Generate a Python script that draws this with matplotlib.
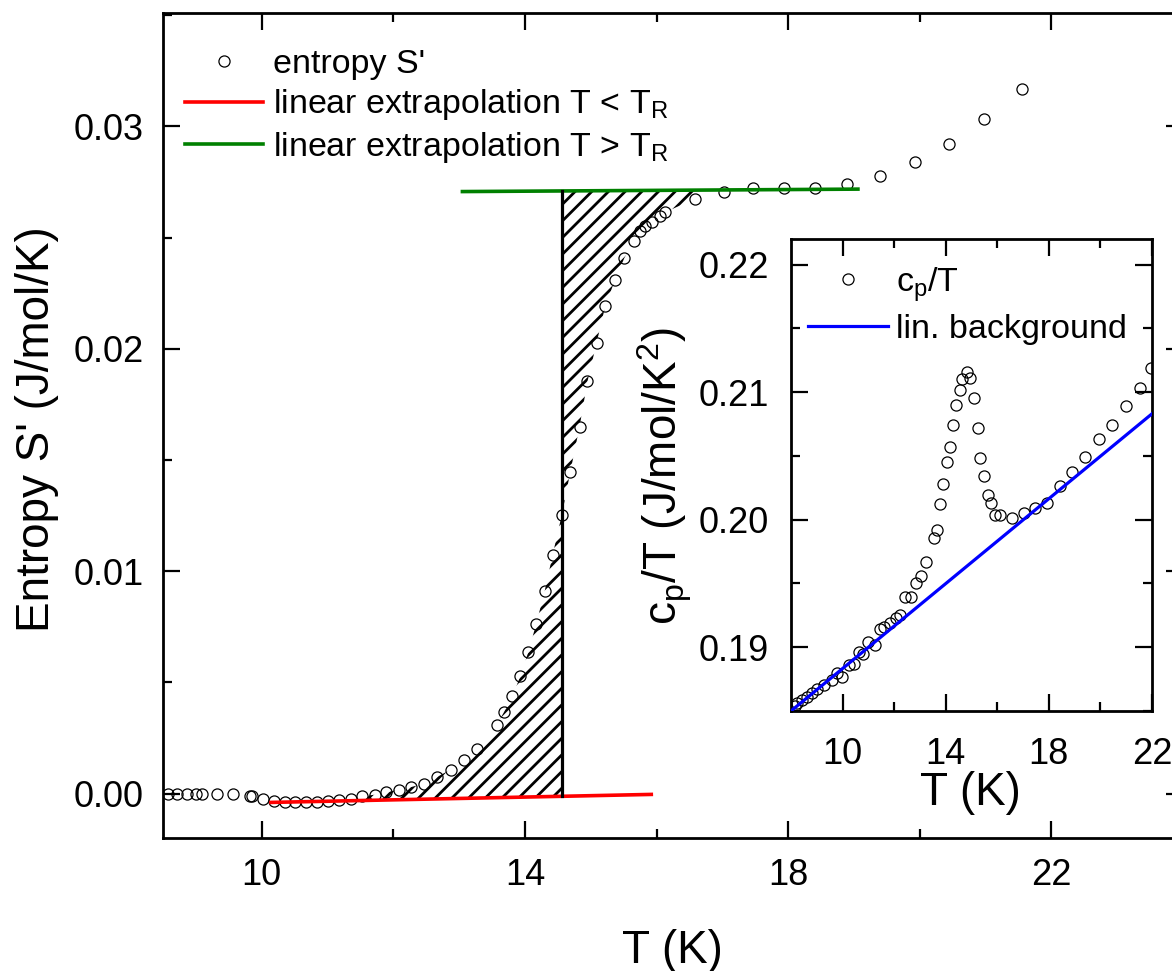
import numpy as np
import matplotlib
matplotlib.use("Agg")
import matplotlib.pyplot as plt
from matplotlib.ticker import MultipleLocator, FormatStrFormatter

plt.rcParams['font.family'] = ['Liberation Sans', 'DejaVu Sans']
plt.rcParams['mathtext.default'] = 'regular'
plt.rcParams['hatch.linewidth'] = 2.0
plt.rcParams['hatch.color'] = 'black'

# ---------------- data: main panel (entropy S') ----------------
T_main = [8.57, 8.72, 8.86, 9.00, 9.09, 9.32, 9.57, 9.82, 9.85, 10.02, 10.18,
          10.35, 10.51, 10.67, 10.84, 11.01, 11.18, 11.35, 11.53, 11.72, 11.89,
          12.08, 12.27, 12.46, 12.66, 12.87, 13.07, 13.27, 13.57, 13.68, 13.81,
          13.93, 14.05, 14.17, 14.30, 14.42, 14.56, 14.69, 14.83, 14.95, 15.09,
          15.22, 15.37, 15.51, 15.65, 15.75, 15.83, 15.93, 16.05, 16.13, 16.58,
          17.02, 17.47, 17.94, 18.41, 18.90, 19.40, 19.92, 20.45, 20.98, 21.55]
S_main = [0.0, 0.0, 0.0, 0.0, 0.0, 0.0, -0.00002, -0.00013, -0.00010, -0.00024,
          -0.00032, -0.00036, -0.00039, -0.00039, -0.00036, -0.00035, -0.00029,
          -0.00025, -0.00013, -0.00005, 0.00005, 0.00017, 0.00029, 0.00044,
          0.00074, 0.00107, 0.00149, 0.00201, 0.00309, 0.00365, 0.00437, 0.00528,
          0.00635, 0.00761, 0.00910, 0.01072, 0.01252, 0.01447, 0.01650, 0.01853,
          0.02028, 0.02191, 0.02311, 0.02408, 0.02483, 0.02528, 0.02551, 0.02569,
          0.02596, 0.02614, 0.02674, 0.02706, 0.02721, 0.02721, 0.02721, 0.02739,
          0.02776, 0.02839, 0.02923, 0.03032, 0.03170]

# linear extrapolations (end points)
T_red = [10.14, 15.92]
S_red = [-0.00040, -0.00004]
T_green = [13.05, 19.06]
S_green = [0.02707, 0.02718]
T_R = 14.56

# ---------------- data: inset (c_p/T) ----------------
T_ins = [8.16, 8.25, 8.42, 8.61, 8.83, 9.02, 9.29, 9.58, 9.80, 9.99, 10.23, 10.45,
         10.65, 10.81, 11.00, 11.24, 11.46, 11.61, 11.82, 12.08, 12.23, 12.43,
         12.66, 12.85, 13.05, 13.24, 13.53, 13.66, 13.79, 13.91, 14.05, 14.17,
         14.28, 14.41, 14.54, 14.63, 14.82, 14.95, 15.08, 15.24, 15.34, 15.47,
         15.64, 15.76, 15.92, 16.12, 16.59, 17.02, 17.48, 17.93, 18.42, 18.90,
         19.39, 19.93, 20.45, 21.01, 21.55, 21.98]
C_ins = [0.1854, 0.1856, 0.1859, 0.1861, 0.1864, 0.1867, 0.1870, 0.1874, 0.1880,
         0.1877, 0.1886, 0.1887, 0.1896, 0.1895, 0.1904, 0.1902, 0.1914, 0.1916,
         0.1919, 0.1923, 0.1925, 0.1939, 0.1939, 0.1950, 0.1956, 0.1967, 0.1986,
         0.1992, 0.2012, 0.2028, 0.2045, 0.2057, 0.2074, 0.2090, 0.2102, 0.2110,
         0.2116, 0.2111, 0.2095, 0.2072, 0.2048, 0.2034, 0.2019, 0.2013, 0.2004,
         0.2004, 0.2001, 0.2005, 0.2009, 0.2013, 0.2026, 0.2037, 0.2049, 0.2063,
         0.2074, 0.2089, 0.2103, 0.2119]
T_bg = [8.0, 22.0]
C_bg = [0.1850, 0.2083]

main_xticks = [10, 14, 18, 22]
main_xminor = [12, 16, 20]
ins_xticks = [10, 14, 18, 22]
ins_xminor = [12, 16, 20]

# ---------------- figure ----------------
W, H = 1172, 971
fig = plt.figure(figsize=(W / 100, H / 100), dpi=100)
ax = fig.add_axes([163 / W, 1 - 838 / H, (1183 - 163) / W, (838 - 13) / H])

Tm = np.array(T_main)
Sm = np.array(S_main)
red_fit = np.polyfit(T_red, S_red, 1)
green_fit = np.polyfit(T_green, S_green, 1)

# hatched regions
m1 = (Tm >= 11.5) & (Tm <= T_R)
ax.fill_between(Tm[m1], np.polyval(red_fit, Tm[m1]), Sm[m1],
                where=Sm[m1] >= np.polyval(red_fit, Tm[m1]), interpolate=True,
                facecolor='none', edgecolor='black', hatch='//', linewidth=0, zorder=1)
m2 = (Tm >= T_R) & (Tm <= 16.6)
ax.fill_between(Tm[m2], Sm[m2], np.polyval(green_fit, Tm[m2]),
                facecolor='none', edgecolor='black', hatch='//', linewidth=0, zorder=1)

ax.plot(T_main, S_main, 'o', mfc='none', mec='black', ms=8, mew=0.9,
        label="entropy S'", zorder=2)
ax.plot(T_red, S_red, color='#ff0000', lw=2.6, zorder=3,
        label=r'linear extrapolation T < T$_{R}$')
ax.plot(T_green, S_green, color='#008000', lw=2.6, zorder=3,
        label=r'linear extrapolation T > T$_{R}$')
ax.plot([T_R, T_R], [np.polyval(red_fit, T_R), np.polyval(green_fit, T_R)],
        color='black', lw=2.3, zorder=3)

ax.set_xlim(8.5, 24)
ax.set_ylim(-0.002, 0.0351)
ax.set_xticks(main_xticks)
ax.set_xticks(main_xminor, minor=True)
ax.yaxis.set_major_locator(MultipleLocator(0.01))
ax.yaxis.set_minor_locator(MultipleLocator(0.005))
ax.yaxis.set_major_formatter(FormatStrFormatter('%.2f'))


def style(a, xpad, ypad):
    for s in a.spines.values():
        s.set_linewidth(2.0)
    a.tick_params(which='both', direction='in', top=True, right=True, width=1.6)
    a.tick_params(which='major', length=12.5, labelsize=26)
    a.tick_params(which='minor', length=6.5)
    a.tick_params(axis='x', which='major', pad=xpad)
    a.tick_params(axis='y', which='major', pad=ypad)


style(ax, 14.5, 14)

ax.set_xlabel('T (K)', fontsize=33, va='center')
ax.xaxis.set_label_coords(0.499, -0.137)
ax.set_ylabel("Entropy S' (J/mol/K)", fontsize=33, va='center')
ax.yaxis.set_label_coords(-0.1235, 0.496)

ax.legend(loc='upper left', bbox_to_anchor=(185 / W, 1 - 49 / H),
          bbox_transform=fig.transFigure, frameon=False, fontsize=24.5,
          borderpad=0, borderaxespad=0, handlelength=2.3, handletextpad=0.3,
          labelspacing=0.22)

# ---------------- inset ----------------
axin = fig.add_axes([791 / W, 1 - 711 / H, (1152 - 791) / W, (711 - 239) / H])
axin.plot(T_ins, C_ins, 'o', mfc='none', mec='black', ms=8, mew=0.9,
          label=r'c$_{p}$/T', zorder=2)
axin.plot(T_bg, C_bg, color='#0000ff', lw=2.3, label='lin. background', zorder=3)
axin.set_xlim(8, 22)
axin.set_ylim(0.185, 0.222)
axin.set_xticks(ins_xticks)
axin.set_xticks(ins_xminor, minor=True)
axin.yaxis.set_major_locator(MultipleLocator(0.01))
axin.yaxis.set_minor_locator(MultipleLocator(0.005))
axin.yaxis.set_major_formatter(FormatStrFormatter('%.2f'))
style(axin, 19, 16)
axin.set_xlabel('T (K)', fontsize=33, va='center')
axin.xaxis.set_label_coords(0.498, -0.174)
axin.set_ylabel(r'c$_{p}$/T (J/mol/K$^{2}$)', fontsize=33, va='center')
axin.yaxis.set_label_coords(-0.35, 0.498)
axin.legend(loc='upper left', bbox_to_anchor=(808 / W, 1 - 265 / H),
            bbox_transform=fig.transFigure, frameon=False, fontsize=24.5,
            borderpad=0, borderaxespad=0, handlelength=2.35, handletextpad=0.25,
            labelspacing=0.3)

fig.savefig('out.png', dpi=100)
